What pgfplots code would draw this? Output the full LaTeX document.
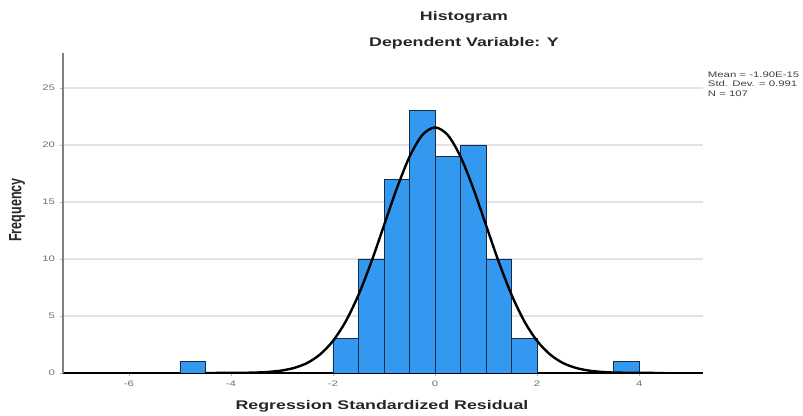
\documentclass[border=0pt]{standalone}
\usepackage{pgfplots}
\pgfplotsset{compat=1.18}
\usepackage{fontspec}
\setmainfont{Liberation Sans}
\usepackage{graphicx}
% the reference is stretched sideways, so text is too
\newcommand{\sx}[1]{\scalebox{1.42}[1]{#1}}
\definecolor{barblue}{HTML}{3399F0}
\definecolor{baredge}{HTML}{1B2B45}
\definecolor{labgray}{HTML}{707070}

\begin{document}
\begin{tikzpicture}
\begin{axis}[
    scale only axis,
    width=480pt, height=240pt,
    xmin=-7.29, xmax=5.25,
    ymin=0, ymax=28.07,
    axis lines*=left,
    x axis line style={black, line width=1.3pt},
    y axis line style={gray, line width=1pt},
    xtick={-6,-4,-2,0,2,4},
    xticklabels={\sx{-6},\sx{-4},\sx{-2},\sx{0},\sx{2},\sx{4}},
    ytick={0,5,10,15,20,25},
    yticklabels={\sx{0},\sx{5},\sx{10},\sx{15},\sx{20},\sx{25}},
    ymajorgrids,
    grid style={gray!22, line width=0.9pt},
    tick align=outside,
    major tick length=2.5pt,
    tick style={gray!60, thin},
    ticklabel style={font=\fontsize{6}{6.5}\selectfont, text=labgray},
]

% histogram bars (bin width 0.5, centres)
\addplot[ybar, bar width=0.5, bar shift=0pt, fill=barblue, draw=baredge, line width=0.5pt]
coordinates {
    (-4.75,1) (-1.75,3) (-1.25,10) (-0.75,17) (-0.25,23)
    (0.25,19) (0.75,20) (1.25,10) (1.75,3) (3.75,1)
};

% normal curve
\addplot[black, line width=1.8pt, smooth] coordinates {
    (-4.5,0.00) (-4.0,0.01) (-3.75,0.02) (-3.5,0.04) (-3.25,0.10) (-3.0,0.22)
    (-2.75,0.46) (-2.5,0.89) (-2.25,1.64) (-2.0,2.81) (-1.75,4.53)
    (-1.5,6.85) (-1.25,9.72) (-1.0,12.95) (-0.75,16.18) (-0.5,18.97)
    (-0.25,20.87) (0,21.54) (0.25,20.87) (0.5,18.97) (0.75,16.18)
    (1.0,12.95) (1.25,9.72) (1.5,6.85) (1.75,4.53) (2.0,2.81)
    (2.25,1.64) (2.5,0.89) (2.75,0.46) (3.0,0.22) (3.25,0.10)
    (3.5,0.04) (3.75,0.02) (4.0,0.01) (4.5,0.00)
};
\end{axis}

% titles and labels
\node[anchor=base, font=\fontsize{9.4}{11}\selectfont\bfseries, text=black!85] at (300.75pt,264pt) {\sx{Histogram}};
\node[anchor=base, font=\fontsize{9.4}{11}\selectfont\bfseries, text=black!85] at (300.75pt,244.5pt) {\sx{Dependent Variable: Y}};
\node[anchor=base, font=\fontsize{9.4}{11}\selectfont\bfseries, text=black!85] at (239.25pt,-27.75pt) {\sx{Regression Standardized Residual}};
\node[rotate=90, font=\fontsize{9.4}{11}\selectfont\bfseries, text=black!85] at (-34.5pt,122.25pt) {\scalebox{1}[1.42]{Frequency}};

% statistics box
\node[anchor=north west, align=left, inner sep=0pt, font=\fontsize{6}{7.1}\selectfont, text=black!75] at (483.5pt,226pt)
    {\sx{Mean = -1.90E-15}\\ \sx{Std. Dev. = 0.991}\\ \sx{N = 107}};

\pgfresetboundingbox
\useasboundingbox (-47.25pt,-32.25pt) rectangle (555pt,279.75pt);
\end{tikzpicture}
\end{document}
